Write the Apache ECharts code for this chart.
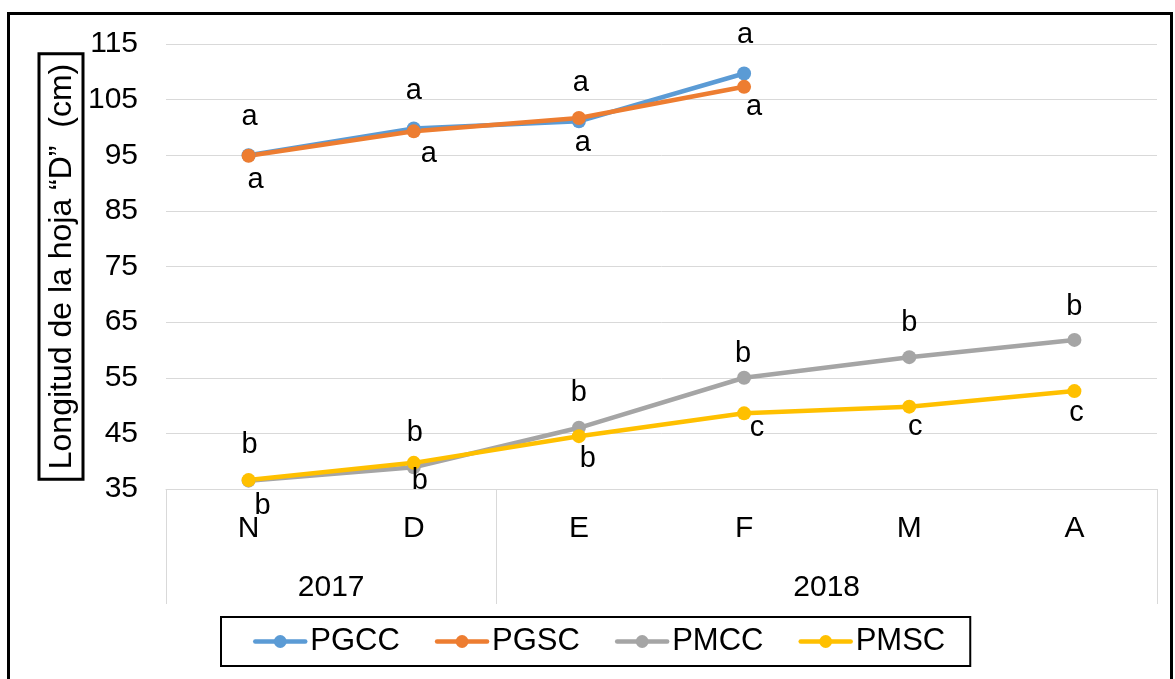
<!DOCTYPE html>
<html>
<head>
<meta charset="utf-8">
<script src="https://cdn.jsdelivr.net/npm/echarts@6/dist/echarts.min.js"></script>
<style>
  html, body { margin: 0; padding: 0; background: #fff; }
  #chart { width: 1175px; height: 679px; }
</style>
</head>
<body>
<div id="chart"></div>
<script>
// Months of the sampling period and the year each group belongs to
const months = ['N', 'D', 'E', 'F', 'M', 'A'];
const years = ['2017', '2018'];
const monthsPerYear = [2, 4];

// Y axis range and step
const yMin = 35;
const yMax = 115;
const yStep = 10;

// Leaf length (cm) per treatment
const seriesNames = ['PGCC', 'PGSC', 'PMCC', 'PMSC'];
const pgcc = [95.0, 99.8, 101.1, 109.7];
const pgsc = [94.9, 99.3, 101.7, 107.3];
const pmcc = [36.5, 38.9, 46.0, 55.0, 58.7, 61.8];
const pmsc = [36.6, 39.7, 44.5, 48.6, 49.8, 52.6];

// Significance letters shown next to each point
const lettersPgcc = ['a', 'a', 'a', 'a'];
const lettersPgsc = ['a', 'a', 'a', 'a'];
const lettersPmcc = ['b', 'b', 'b', 'b', 'b', 'b'];
const lettersPmsc = ['b', 'b', 'b', 'c', 'c', 'c'];

// Label placement relative to each point [dx, dy] in px
const shiftPgcc = [[1, -38], [0, -38], [2, -38], [1, -38]];
const shiftPgsc = [[7, 24], [15, 23], [4, 25], [10, 20]];
const shiftPmcc = [[1, -36], [1, -34], [0, -35], [-1, -24], [0, -34], [0, -33]];
const shiftPmsc = [[14, 26], [6, 18], [9, 23], [13, 15], [6, 20], [2, 22]];

const colors = ['#5B9BD5', '#ED7D31', '#A5A5A5', '#FFC000'];
const FONT = 'Arial, "Liberation Sans", sans-serif';

// Year group boundaries and centres, in month units
const yearEdges = [0];
monthsPerYear.forEach(n => yearEdges.push(yearEdges[yearEdges.length - 1] + n));
const yearCenters = years.map((_, i) => (yearEdges[i] + yearEdges[i + 1]) / 2);

function buildSeries(name, values, letters, shifts, color) {
  return {
    name: name,
    type: 'line',
    xAxisIndex: 0,
    data: values.map((v, i) => ({
      value: v,
      label: { offset: shifts[i] }
    })),
    symbol: 'circle',
    symbolSize: 14,
    color: color,
    lineStyle: { width: 4.5, color: color, cap: 'round', join: 'round' },
    itemStyle: { color: color },
    label: {
      show: true,
      position: 'inside',
      align: 'center',
      verticalAlign: 'middle',
      fontFamily: FONT,
      fontSize: 29,
      color: '#000',
      formatter: p => letters[p.dataIndex]
    },
    emphasis: { disabled: true },
    animation: false
  };
}

const chart = echarts.init(document.getElementById('chart'), null, { renderer: 'canvas' });

chart.setOption({
  backgroundColor: '#fff',
  animation: false,
  textStyle: { fontFamily: FONT },
  grid: { left: 166, right: 18, top: 44, bottom: 190 },
  graphic: [{
    type: 'rect',
    shape: { x: 8.5, y: 13.5, width: 1163, height: 700 },
    style: { fill: 'none', stroke: '#000', lineWidth: 3 },
    silent: true,
    z: 100
  }],
  legend: {
    left: 221,
    top: 617,
    itemWidth: 50,
    itemHeight: 16,
    itemGap: 35,
    padding: [9, 25, 9, 32],
    borderColor: '#000',
    borderWidth: 2,
    lineStyle: { width: 4.5 },
    textStyle: { fontFamily: FONT, fontSize: 31, color: '#000' },
    data: seriesNames
  },
  xAxis: [{
    type: 'category',
    data: months,
    boundaryGap: true,
    axisLine: { show: true, lineStyle: { color: '#D9D9D9', width: 1 } },
    axisTick: { show: false },
    axisLabel: { fontFamily: FONT, fontSize: 30, color: '#000', margin: 25 },
    splitLine: { show: false }
  }, {
    type: 'value',
    min: 0,
    max: months.length,
    position: 'bottom',
    axisLine: { show: false },
    splitLine: { show: false },
    axisTick: {
      show: true,
      customValues: yearEdges,
      length: 115,
      lineStyle: { color: '#D9D9D9', width: 1 }
    },
    axisLabel: {
      customValues: yearCenters,
      formatter: v => years[yearCenters.indexOf(v)] || '',
      fontFamily: FONT,
      fontSize: 30,
      color: '#000',
      margin: 84
    }
  }],
  yAxis: {
    type: 'value',
    min: yMin,
    max: yMax,
    interval: yStep,
    axisLine: { show: false },
    axisTick: { show: false },
    axisLabel: { fontFamily: FONT, fontSize: 30, color: '#000', margin: 28 },
    splitLine: { lineStyle: { color: '#D9D9D9', width: 1 } },
    name: 'Longitud de la hoja \u201CD\u201D  (cm)',
    nameLocation: 'middle',
    nameRotate: 90,
    nameGap: 83,
    nameMoveOverlap: false,
    nameTextStyle: {
      fontFamily: FONT,
      fontSize: 32,
      color: '#000',
      borderColor: '#000',
      borderWidth: 3,
      padding: [7, 10, 5, 10]
    }
  },
  series: [
    buildSeries('PGCC', pgcc, lettersPgcc, shiftPgcc, colors[0]),
    buildSeries('PGSC', pgsc, lettersPgsc, shiftPgsc, colors[1]),
    buildSeries('PMCC', pmcc, lettersPmcc, shiftPmcc, colors[2]),
    buildSeries('PMSC', pmsc, lettersPmsc, shiftPmsc, colors[3])
  ]
});
</script>
</body>
</html>
